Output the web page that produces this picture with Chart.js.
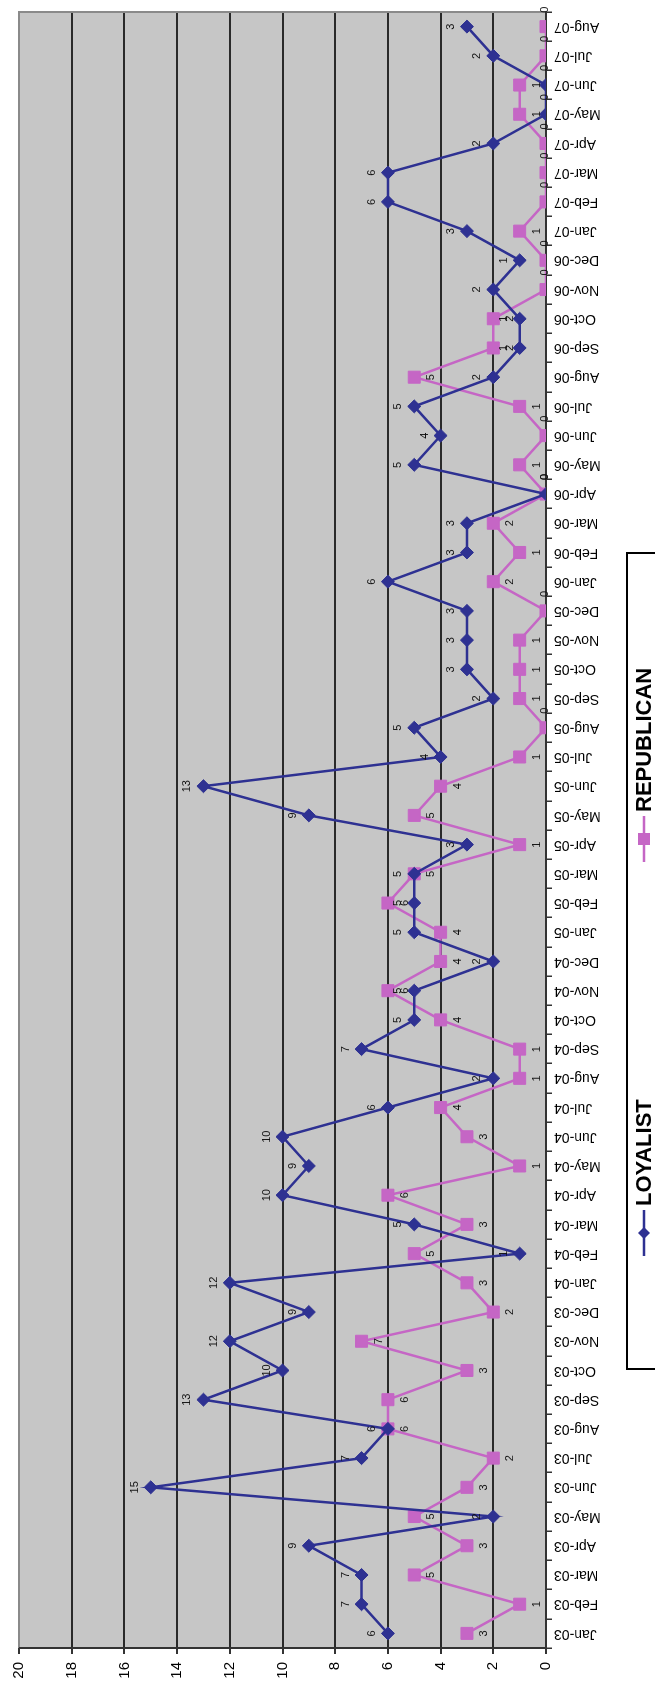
<!DOCTYPE html>
<html>
<head>
<meta charset="utf-8">
<script src="https://cdn.jsdelivr.net/npm/chart.js@4/dist/chart.umd.min.js"></script>
<style>
  html, body { margin:0; padding:0; background:#fff; }
  body { width:655px; height:1689px; overflow:hidden; position:relative; }
  #wrap { position:absolute; left:0; top:0; width:1689px; height:655px; overflow:hidden;
          transform-origin:0 0; transform:translateY(1689px) rotate(-90deg); background:#fff; }
  #c { position:absolute; left:0; top:0; }
  #legend { position:absolute; left:319px; top:626px; width:818px; height:70px; border:2px solid #000;
            box-sizing:border-box; background:#fff; }
  .item { position:absolute; top:3px; height:26px; display:flex; align-items:center;
          font-family:"Liberation Sans", Arial, sans-serif; font-weight:bold; font-size:22px; color:#000; }
  .item svg { margin-right:4px; }
</style>
</head>
<body>
<div id="wrap">
  <canvas id="c" width="1689" height="655"></canvas>
  <div id="legend"></div>
</div>
<script>
const months = ['Jan-03','Feb-03','Mar-03','Apr-03','May-03','Jun-03','Jul-03','Aug-03','Sep-03','Oct-03','Nov-03','Dec-03',
  'Jan-04','Feb-04','Mar-04','Apr-04','May-04','Jun-04','Jul-04','Aug-04','Sep-04','Oct-04','Nov-04','Dec-04',
  'Jan-05','Feb-05','Mar-05','Apr-05','May-05','Jun-05','Jul-05','Aug-05','Sep-05','Oct-05','Nov-05','Dec-05',
  'Jan-06','Feb-06','Mar-06','Apr-06','May-06','Jun-06','Jul-06','Aug-06','Sep-06','Oct-06','Nov-06','Dec-06',
  'Jan-07','Feb-07','Mar-07','Apr-07','May-07','Jun-07','Jul-07','Aug-07'];
const loyalist = [6,7,7,9,2,15,7,6,13,10,12,9,
  12,1,5,10,9,10,6,2,7,5,5,2,
  5,5,5,3,9,13,4,5,2,3,3,3,
  6,3,3,0,5,4,5,2,1,1,2,1,
  3,6,6,2,0,0,2,3];
const republican = [3,1,5,3,5,3,2,6,6,3,7,2,
  3,5,3,6,1,3,4,1,1,4,6,4,
  4,6,5,1,5,4,1,0,1,1,1,0,
  2,1,2,0,1,0,1,5,2,2,0,0,
  1,0,0,0,1,1,0,0];
const seriesNames = ['LOYALIST','REPUBLICAN'];
const seriesColors = ['#2E3192','#C566C5'];
const seriesMarkers = ['rectRot','rect'];
const valueMin = 0, valueMax = 20, valueStep = 2;

const FONT = '"Liberation Sans", Arial, sans-serif';

const plotBg = {
  id:'plotBg',
  beforeDraw(chart){
    const a = chart.chartArea, ctx = chart.ctx;
    ctx.save(); ctx.fillStyle = '#C6C6C6';
    ctx.fillRect(a.left, a.top, a.right-a.left, a.bottom-a.top);
    ctx.restore();
  },
  beforeDatasetsDraw(chart){
    const a = chart.chartArea, ctx = chart.ctx;
    ctx.save(); ctx.strokeStyle = '#8a8a8a'; ctx.lineWidth = 2;
    ctx.beginPath();
    ctx.moveTo(a.left, a.top); ctx.lineTo(a.right, a.top); ctx.lineTo(a.right, a.bottom);
    ctx.stroke();
    ctx.strokeStyle = '#333'; ctx.beginPath();
    ctx.moveTo(a.left, a.top); ctx.lineTo(a.left, a.bottom); ctx.lineTo(a.right, a.bottom);
    ctx.stroke();
    ctx.restore();
  }
};

const dataLabels = {
  id:'dataLabels',
  afterDatasetsDraw(chart){
    const ctx = chart.ctx;
    ctx.save();
    ctx.font = '11px ' + FONT;
    ctx.fillStyle = '#111';
    ctx.textAlign = 'center'; ctx.textBaseline = 'middle';
    chart.data.datasets.forEach((ds, i) => {
      const meta = chart.getDatasetMeta(i);
      meta.data.forEach((pt, j) => {
        const v = ds.data[j];
        let x = pt.x, y = pt.y;
        if (v === 0) { x += 17; y -= 1; }
        else if (i === 0) { y -= 16; }
        else { y += 17; }
        ctx.fillText(String(v), x, y);
      });
    });
    ctx.restore();
  }
};

new Chart(document.getElementById('c'), {
  type:'line',
  data:{
    labels: months,
    datasets: [
      { label: seriesNames[0], data: loyalist, borderColor: seriesColors[0], backgroundColor: seriesColors[0],
        borderWidth: 2.5, pointStyle: seriesMarkers[0], pointRadius: 6.5, pointBorderWidth: 1, tension: 0 },
      { label: seriesNames[1], data: republican, borderColor: seriesColors[1], backgroundColor: seriesColors[1],
        borderWidth: 2.5, pointStyle: seriesMarkers[1], pointRadius: 8.5, pointBorderWidth: 1, tension: 0 }
    ]
  },
  options:{
    responsive:false, animation:false, devicePixelRatio:1,
    layout:{ padding:{ top:19, right:12, left:0, bottom:0 } },
    plugins:{ legend:{ display:false }, tooltip:{ enabled:false } },
    scales:{
      x:{
        offset:true,
        grid:{ display:true, drawOnChartArea:false, offset:true, tickLength:6, tickColor:'#333', lineWidth:1.5 },
        border:{ display:false },
        ticks:{ autoSkip:false, minRotation:90, maxRotation:90, padding:2, color:'#000',
                font:{ family:FONT, size:14 } },
        afterFit(scale){ scale.height = 109; }
      },
      y:{
        min: valueMin, max: valueMax,
        grid:{ color:(c)=> (c.tick && c.tick.value === valueMax) ? 'rgba(0,0,0,0)' : '#2a2a2a',
               lineWidth:2, tickLength:6, tickColor:'#333' },
        border:{ display:false },
        ticks:{ stepSize: valueStep, padding:8, color:'#000', font:{ family:FONT, size:15 } },
        afterFit(scale){ scale.width = 41; }
      }
    }
  },
  plugins:[plotBg, dataLabels]
});

// HTML legend
const legend = document.getElementById('legend');
const itemLeft = [112, 506];
seriesNames.forEach((name, i) => {
  const d = document.createElement('div');
  d.className = 'item';
  d.style.left = itemLeft[i] + 'px';
  const col = seriesColors[i];
  const marker = i === 0
    ? `<polygon points="23,7 29,13 23,19 17,13" fill="${col}"/>`
    : `<rect x="17" y="7" width="12" height="12" fill="${col}"/>`;
  d.innerHTML = `<svg width="46" height="26" viewBox="0 0 46 26"><line x1="0" y1="13" x2="46" y2="13" stroke="${col}" stroke-width="2.5"/>${marker}</svg><span>${name}</span>`;
  legend.appendChild(d);
});
</script>
</body>
</html>
